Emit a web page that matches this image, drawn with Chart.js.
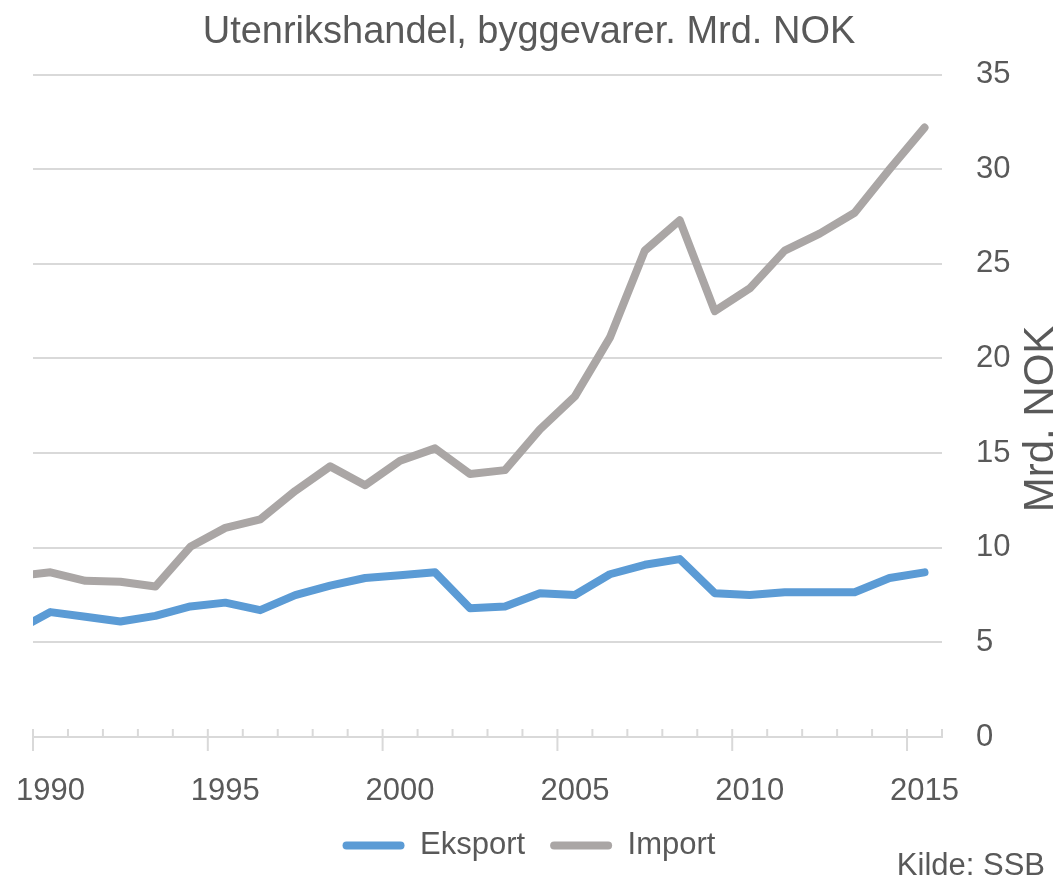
<!DOCTYPE html>
<html>
<head>
<meta charset="utf-8">
<title>Utenrikshandel, byggevarer</title>
<script src="https://cdn.jsdelivr.net/npm/chart.js@4.4.1/dist/chart.umd.min.js"></script>
<style>
  html, body { margin: 0; padding: 0; background: #fff; }
</style>
</head>
<body>
<canvas id="trade_chart" width="1058" height="882"></canvas>
<script>
// Utenrikshandel med byggevarer, mrd. NOK (kilde: SSB)
const years = [1989, 1990, 1991, 1992, 1993, 1994, 1995, 1996, 1997, 1998, 1999,
               2000, 2001, 2002, 2003, 2004, 2005, 2006, 2007, 2008, 2009,
               2010, 2011, 2012, 2013, 2014, 2015];
const eksport = [5.6, 6.6, 6.35, 6.1, 6.4, 6.9, 7.1, 6.7, 7.5, 8.0, 8.4,
                 8.55, 8.7, 6.8, 6.9, 7.6, 7.5, 8.6, 9.1, 9.4, 7.6,
                 7.5, 7.65, 7.65, 7.65, 8.4, 8.7];
const importVals = [8.5, 8.7, 8.25, 8.2, 7.95, 10.05, 11.05, 11.5, 13.0, 14.3, 13.3,
                    14.6, 15.25, 13.9, 14.1, 16.25, 18.0, 21.1, 25.7, 27.3, 22.5,
                    23.7, 25.7, 26.6, 27.7, 30.0, 32.2];
const labelYears = [1990, 1995, 2000, 2005, 2010, 2015];
const yMax = 35;
const yStep = 5;

const FONT = "'Liberation Sans', Arial, sans-serif";
const TEXT = '#595959';
const GRID = '#d9d9d9';

Chart.defaults.font.family = FONT;
Chart.defaults.color = TEXT;

// tick marks on the year axis + source and unit text
const axisMarks = {
    id: 'axisMarks',
    beforeDatasetsDraw(chart) {
        const {ctx, chartArea, scales: {x}} = chart;
        const half = (x.getPixelForTick(1) - x.getPixelForTick(0)) / 2;
        const bottom = chartArea.bottom;
        ctx.save();
        ctx.strokeStyle = GRID;
        ctx.lineWidth = 2;
        const mark = (px, major) => {
            ctx.beginPath();
            ctx.moveTo(px, bottom - 8);
            ctx.lineTo(px, bottom + (major ? 14 : 0));
            ctx.stroke();
        };
        x.ticks.forEach((t, i) => {
            const yr = Number(chart.data.labels[t.value]);
            mark(x.getPixelForTick(i) - half, labelYears.includes(yr));
        });
        mark(chartArea.right, false);
        ctx.restore();
    },
    afterDraw(chart) {
        const {ctx} = chart;
        ctx.save();
        ctx.fillStyle = TEXT;

        ctx.font = '31px ' + FONT;
        ctx.textAlign = 'right';
        ctx.textBaseline = 'alphabetic';
        ctx.fillText('Kilde: SSB', 1045, 875);

        ctx.translate(1041, 419);
        ctx.rotate(-Math.PI / 2);
        ctx.font = '42px ' + FONT;
        ctx.textAlign = 'center';
        ctx.textBaseline = 'middle';
        ctx.fillText('Mrd. NOK', 0, 0);
        ctx.restore();
    }
};

const ctx = document.getElementById('trade_chart');

new Chart(ctx, {
    type: 'line',
    data: {
        labels: years.map(String),
        datasets: [
            {
                label: 'Eksport',
                data: eksport,
                borderColor: '#5b9bd5',
                backgroundColor: '#5b9bd5',
                borderWidth: 8,
                pointRadius: 0,
                tension: 0,
                borderJoinStyle: 'round',
                borderCapStyle: 'round',
                clip: {left: 0, right: 10, top: 10, bottom: 10}
            },
            {
                label: 'Import',
                data: importVals,
                borderColor: '#aaa6a5',
                backgroundColor: '#aaa6a5',
                borderWidth: 8,
                pointRadius: 0,
                tension: 0,
                borderJoinStyle: 'round',
                borderCapStyle: 'round',
                clip: {left: 0, right: 10, top: 10, bottom: 10}
            }
        ]
    },
    options: {
        responsive: false,
        animation: false,
        layout: {
            padding: {left: 0, right: 0, top: 0, bottom: 11}
        },
        plugins: {
            title: {
                display: true,
                text: 'Utenrikshandel, byggevarer. Mrd. NOK',
                color: TEXT,
                font: {size: 38, weight: 'normal'},
                padding: {top: 10, bottom: 19}
            },
            legend: {
                position: 'bottom',
                labels: {
                    color: TEXT,
                    font: {size: 31},
                    boxWidth: 62,
                    boxHeight: 8,
                    padding: 25,
                    useBorderRadius: true,
                    borderRadius: 4,
                    generateLabels: chart =>
                        Chart.defaults.plugins.legend.labels.generateLabels(chart)
                            .map(item => Object.assign(item, {lineWidth: 0}))
                }
            },
            tooltip: {enabled: false}
        },
        scales: {
            x: {
                type: 'category',
                min: '1990',
                offset: true,
                grid: {display: false, drawTicks: false, offset: true},
                border: {display: true, color: GRID, width: 2},
                ticks: {
                    autoSkip: false,
                    maxRotation: 0,
                    padding: 36,
                    font: {size: 31},
                    callback: function (value) {
                        const yr = Number(this.getLabelForValue(value));
                        return labelYears.includes(yr) ? String(yr) : '';
                    }
                },
                afterFit: scale => {
                    scale.height = 68;
                    scale.paddingLeft = 33;
                    scale.paddingRight = 0;
                }
            },
            y: {
                position: 'right',
                min: 0,
                max: yMax,
                grid: {color: GRID, lineWidth: 2, drawTicks: false},
                border: {display: false},
                ticks: {
                    stepSize: yStep,
                    padding: 34,
                    font: {size: 31}
                },
                afterFit: scale => {
                    scale.width = 116;
                }
            }
        }
    },
    plugins: [axisMarks]
});
</script>
</body>
</html>
